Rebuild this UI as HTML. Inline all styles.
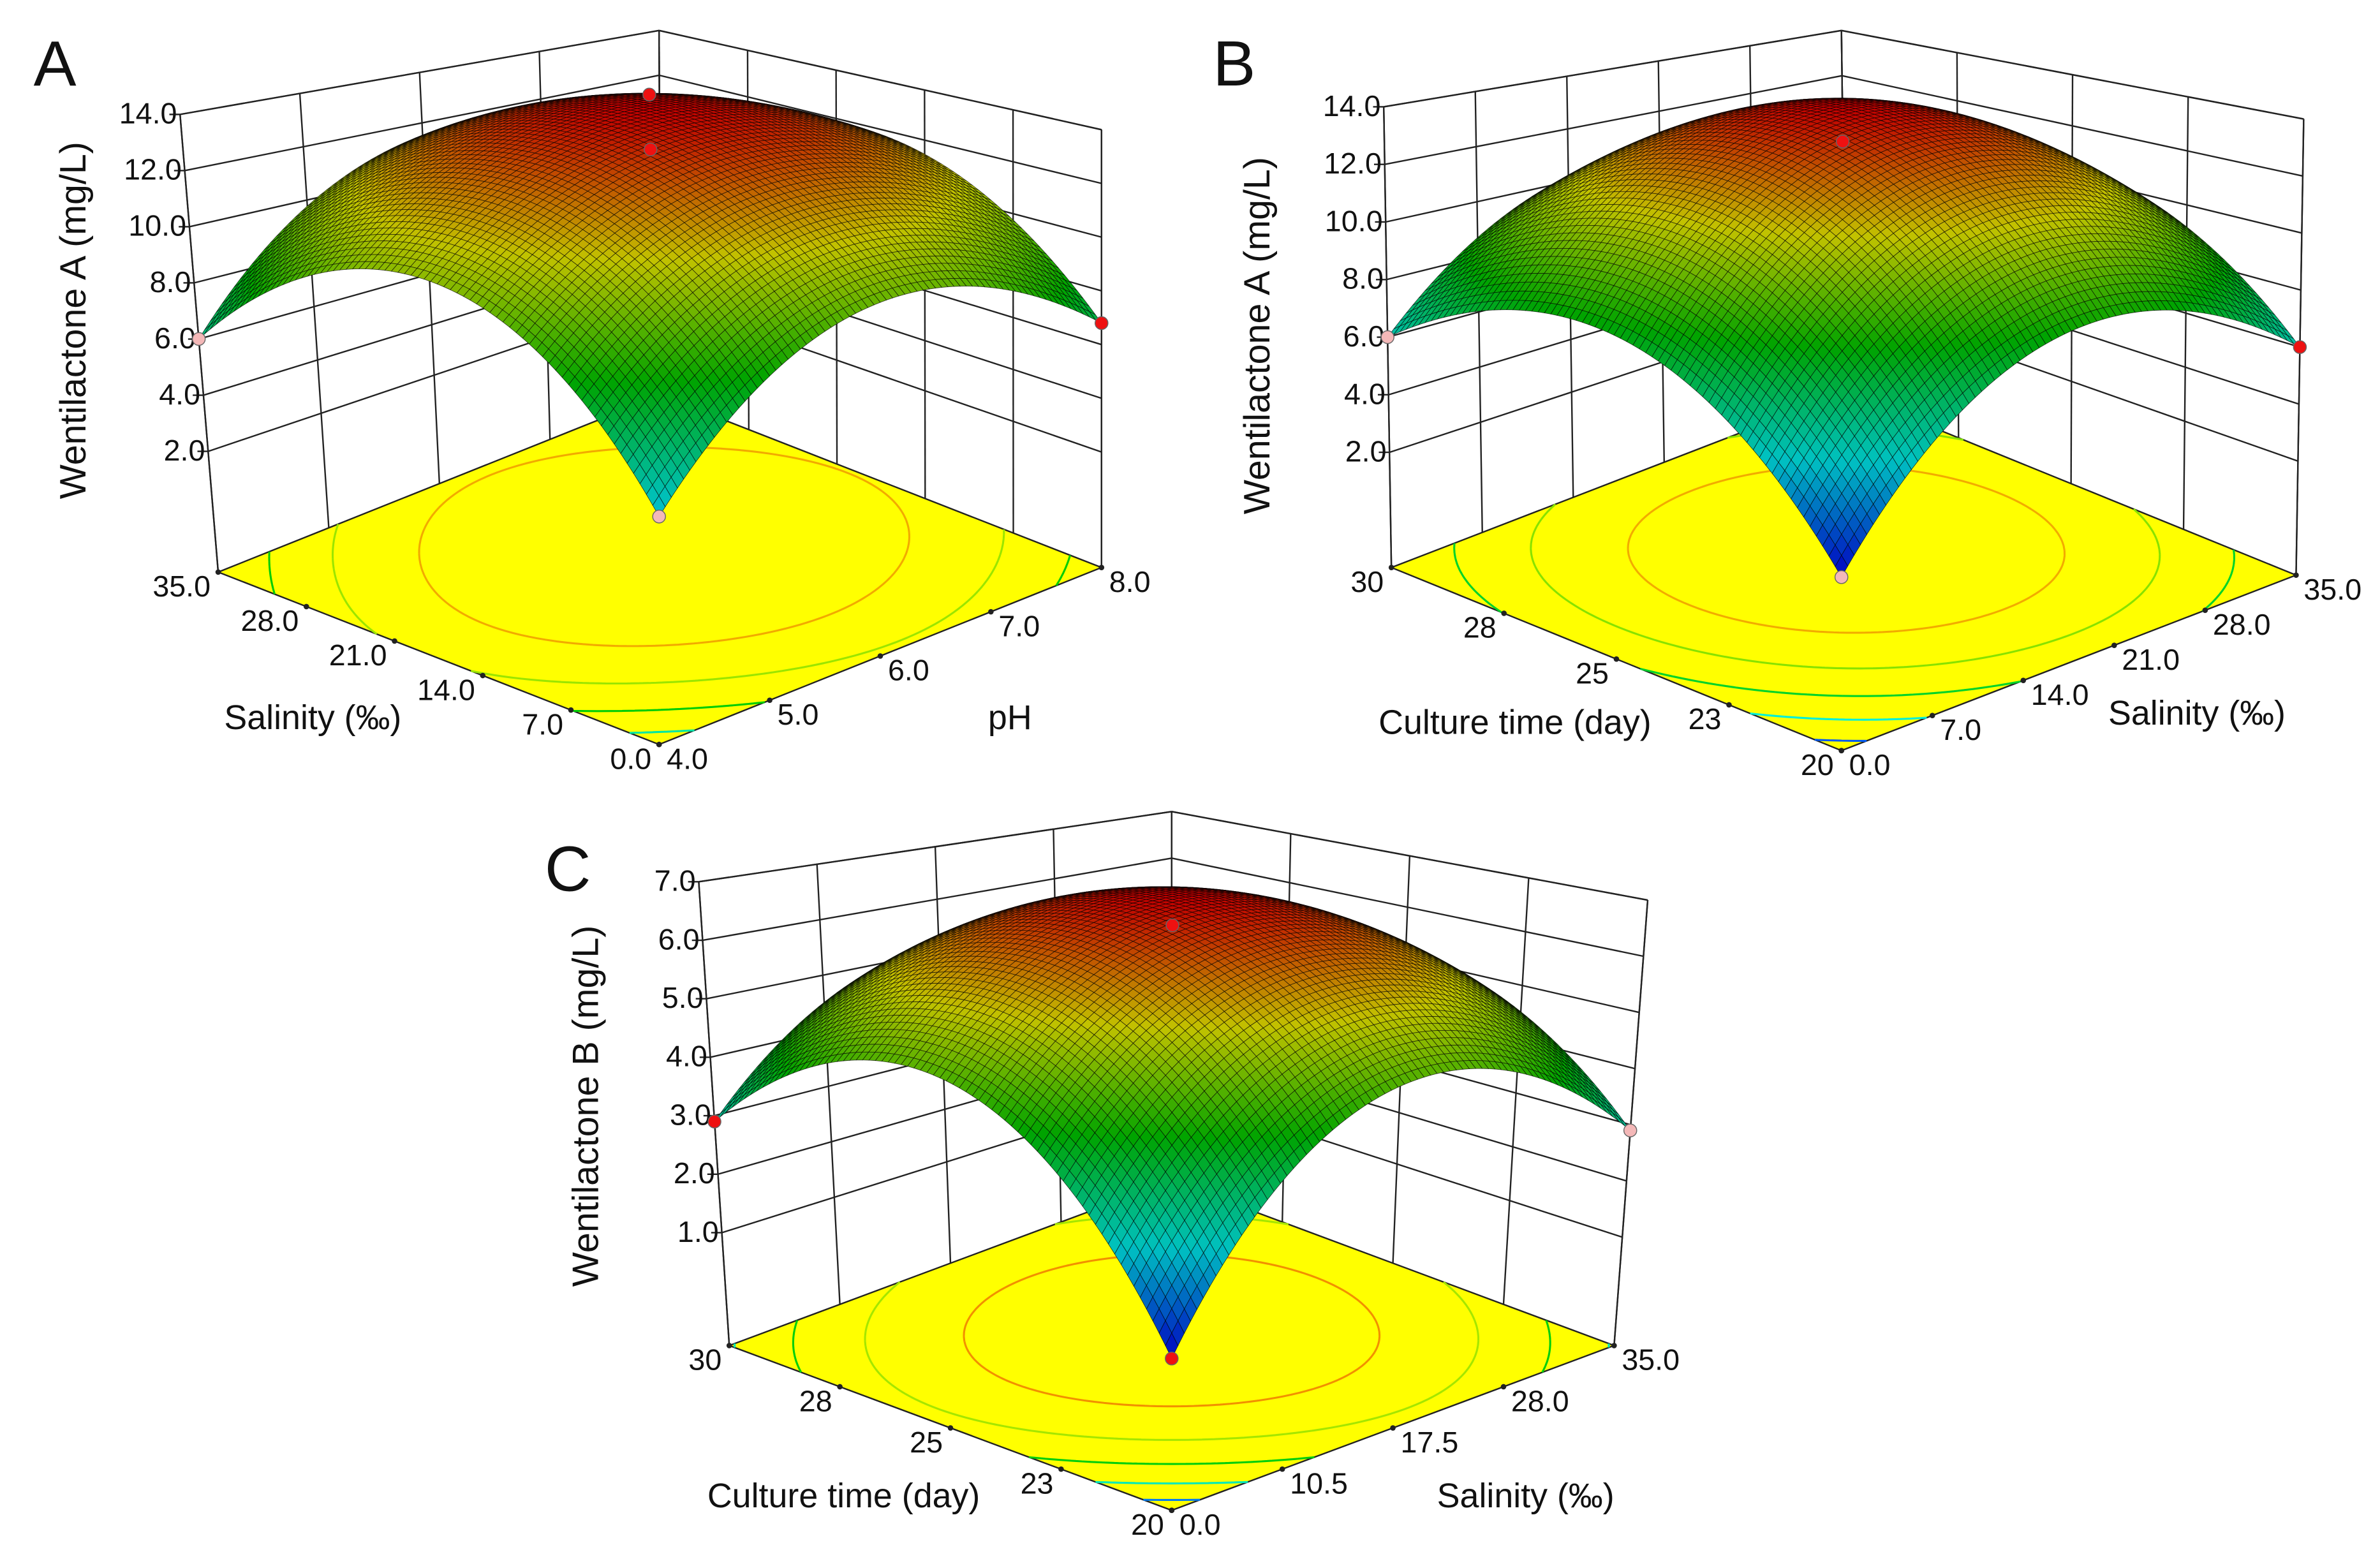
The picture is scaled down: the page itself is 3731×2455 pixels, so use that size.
<!DOCTYPE html>
<html><head><meta charset="utf-8"><title>Response surfaces</title>
<style>html,body{margin:0;padding:0;background:#fff;width:3731px;height:2455px;overflow:hidden}
svg text{font-family:"Liberation Sans",sans-serif;fill:#111}</style></head>
<body>
<svg id="fig" xmlns="http://www.w3.org/2000/svg" width="3731" height="2455" viewBox="0 0 1560 1026.5">
<rect x="0" y="0" width="1560" height="1026.5" fill="#fff"/>
</svg>
<script>
// ---------- DATA ----------
// 3x3 response values at coded levels (rows: u = front->left axis low,mid,high; cols: v = front->right axis low,mid,high)
const gridA = [[4.7, 9.6, 6.8],[10.2, 14.0, 11.8],[6.0, 11.5, 8.8]];
const gridB = [[3.0, 8.5, 6.0],[8.2, 13.8, 10.5],[6.0, 10.5, 7.5]];
const gridC = [[1.3, 4.6, 2.9],[4.6, 6.8, 5.2],[2.9, 5.2, 3.8]];
const zTicksA = [2, 4, 6, 8, 10, 12, 14];
const zTicksB = [2, 4, 6, 8, 10, 12, 14];
const zTicksC = [1, 2, 3, 4, 5, 6, 7];
const uLabelsA = ["0.0","7.0","14.0","21.0","28.0","35.0"];
const vLabelsA = ["4.0","5.0","6.0","7.0","8.0"];
const uLabelsB = ["20","23","25","28","30"];
const vLabelsB = ["0.0","7.0","14.0","21.0","28.0","35.0"];
const uLabelsC = ["20","23","25","28","30"];
const vLabelsC = ["0.0","10.5","17.5","28.0","35.0"];
const contoursA = [6, 8, 10, 12];
const contoursB = [4, 6, 8, 10, 12];
const contoursC = [2, 3, 4, 5, 6];
// design points: [u, v, z, color]
const pointsA = [[1,0,6.0,"pink"],[0,1,6.8,"red"],[0,0,4.7,"pink"],[0.5,0.5,15.0,"red"],[0.5,0.5,13.0,"red"]];
const pointsB = [[1,0,6.0,"pink"],[0,1,6.0,"red"],[0,0,3.0,"pink"],[0.5,0.5,13.0,"red"]];
const pointsC = [[1,0,2.9,"red"],[0,1,2.9,"pink"],[0,0,1.3,"red"],[0.5,0.5,6.4,"red"]];

// ---------- GEOMETRY (layout only) ----------
const geoA = {F:[432,488],L:[143,375],R:[722,372],B:[433,259],Ft:[432,140],Lt:[118,75],Rt:[722,85],Bt:[432,20],zmin:-2.3,zmax:14,cmin:2,
  letter:[22,56],lt:"A",ztitle:"Wentilactone A (mg/L)",zt:[56,210],ut:"Salinity (\u2030)",utp:[205,478],vt:"pH",vtp:[662,478],uWall:5,vWall:4};
const geoB = {F:[1207,492],L:[912,372],R:[1505,377],B:[1210,257],Ft:[1207,128],Lt:[907,70],Rt:[1510,78],Bt:[1207,20],zmin:-2,zmax:14,cmin:3,
  letter:[795,56],lt:"B",ztitle:"Wentilactone A (mg/L)",zt:[832,220],ut:"Culture time (day)",utp:[993,481],vt:"Salinity (\u2030)",vtp:[1440,475],uWall:4,vWall:5};
const geoC = {F:[768,990],L:[478,882],R:[1058,882],B:[768,774],Ft:[768,636],Lt:[458,578],Rt:[1080,590],Bt:[768,532],zmin:-0.93,zmax:7,cmin:1.3,
  letter:[357,584],lt:"C",ztitle:"Wentilactone B (mg/L)",zt:[392,725],ut:"Culture time (day)",utp:[553,988],vt:"Salinity (\u2030)",vtp:[1000,988],uWall:4,vWall:4};

const NS = "http://www.w3.org/2000/svg";
const svg = document.getElementById("fig");
function mk(tag, parent, attrs){const e=document.createElementNS(NS,tag);for(const k in attrs)e.setAttribute(k,attrs[k]);parent.appendChild(e);return e;}
function bil(a,b,c,d,u,v){return [a[0]*(1-u)*(1-v)+b[0]*u*(1-v)+c[0]*(1-u)*v+d[0]*u*v, a[1]*(1-u)*(1-v)+b[1]*u*(1-v)+c[1]*(1-u)*v+d[1]*u*v];}
function lag(t){return [2*(t-0.5)*(t-1), -4*t*(t-1), 2*t*(t-0.5)];}
function surf(g,u,v){const a=lag(u),b=lag(v);let s=0;for(let i=0;i<3;i++)for(let j=0;j<3;j++)s+=g[i][j]*a[i]*b[j];return s;}
const stops=[[0,[0,0,255]],[0.25,[0,255,255]],[0.5,[0,215,0]],[0.75,[255,255,0]],[1,[255,0,0]]];
function pal(t){t=Math.max(0,Math.min(1,t));for(let k=1;k<stops.length;k++){if(t<=stops[k][0]){const a=stops[k-1],b=stops[k];const f=(t-a[0])/(b[0]-a[0]);return [0,1,2].map(i=>a[1][i]+(b[1][i]-a[1][i])*f);}}return stops[4][1];}
function rgb(c,m){return "rgb("+c.map(x=>Math.round(x*m)).join(",")+")";}

function drawPanel(name, geo, grid, zTicks, uLabels, vLabels, contours, points){
  const g = mk("g", svg, {});
  
  
  const P=(u,v,z)=>{const h=(z-geo.zmin)/(geo.zmax-geo.zmin);const b=bil(geo.F,geo.L,geo.R,geo.B,u,v);const t=bil(geo.Ft,geo.Lt,geo.Rt,geo.Bt,u,v);return [b[0]+h*(t[0]-b[0]), b[1]+h*(t[1]-b[1])];};
  const line=(p,q,w,nm)=>{const l=mk("line",g,{x1:p[0].toFixed(2),y1:p[1].toFixed(2),x2:q[0].toFixed(2),y2:q[1].toFixed(2),stroke:"#222","stroke-width":w});
    
    };
  for(const z of zTicks.concat([geo.zmax])){line(P(1,0,z),P(1,1,z),1,"wall-gridline");line(P(1,1,z),P(0,1,z),1,"wall-gridline");}
  for(let k=0;k<=geo.vWall;k++){const v=k/geo.vWall;line(P(1,v,geo.zmin),P(1,v,geo.zmax),1,"wall-gridline");}
  for(let k=0;k<=geo.uWall;k++){const u=k/geo.uWall;line(P(u,1,geo.zmin),P(u,1,geo.zmax),1,"wall-gridline");}
  for(let k=0;k<zTicks.length;k++){const p=P(1,0,zTicks[k]);line([p[0]-7,p[1]],p,1,"z-tick");
    const t=mk("text",g,{x:(p[0]-2).toFixed(1),y:(p[1]+6).toFixed(1),"font-size":"19.5","text-anchor":"end"});t.textContent=zTicks[k].toFixed(1);
    
    }
  const fl=mk("polygon",g,{points:[geo.F,geo.L,geo.B,geo.R].map(p=>p.join(",")).join(" "),fill:"#ffff00",stroke:"#222","stroke-width":1});
  
  
  const cm=geo.cmin;
  let smax=-1e9;const N=72;
  for(let i=0;i<=N;i++)for(let j=0;j<=N;j++)smax=Math.max(smax,surf(grid,i/N,j/N));
  for(const lvl of contours){
    let d="";
    const f=(i,j)=>surf(grid,i/N,j/N)-lvl;
    for(let i=0;i<N;i++)for(let j=0;j<N;j++){
      const c=[[i,j],[i+1,j],[i+1,j+1],[i,j+1]];const val=c.map(q=>f(q[0],q[1]));const pts=[];
      for(let e=0;e<4;e++){const a=val[e],b=val[(e+1)%4];if((a<0)!==(b<0)){const t=a/(a-b);const A=c[e],B=c[(e+1)%4];pts.push(P((A[0]+(B[0]-A[0])*t)/N,(A[1]+(B[1]-A[1])*t)/N,geo.zmin));}}
      for(let k=0;k+1<pts.length;k+=2)d+="M"+pts[k][0].toFixed(2)+" "+pts[k][1].toFixed(2)+"L"+pts[k+1][0].toFixed(2)+" "+pts[k+1][1].toFixed(2);
    }
    const cl=mk("path",g,{d:d,fill:"none",stroke:rgb(pal((lvl-cm)/(smax-cm)),0.95),"stroke-width":1.3});
    
    
  }
  const nu=uLabels.length-1, nv=vLabels.length-1;
  for(let k=0;k<=nu;k++){const p=P(k/nu,0,geo.zmin);
    const tk=mk("circle",g,{cx:p[0].toFixed(1),cy:p[1].toFixed(1),r:1.8,fill:"#222"});
    const t=mk("text",g,{x:(p[0]-5).toFixed(1),y:(p[1]+16).toFixed(1),"font-size":"19.5","text-anchor":"end"});t.textContent=uLabels[k];
    
    }
  for(let k=0;k<=nv;k++){const p=P(0,k/nv,geo.zmin);
    const tk=mk("circle",g,{cx:p[0].toFixed(1),cy:p[1].toFixed(1),r:1.8,fill:"#222"});
    const t=mk("text",g,{x:(p[0]+5).toFixed(1),y:(p[1]+16).toFixed(1),"font-size":"19.5","text-anchor":"start"});t.textContent=vLabels[k];
    
    }
  line(P(1,0,geo.zmin),P(1,0,geo.zmax),1,"z-axis-line");
  line(P(0,1,geo.zmin),P(0,1,geo.zmax),1,"right-edge-line");
  line(P(1,1,geo.zmin),P(1,1,geo.zmax),1,"back-edge-line");
  const sg=mk("g",g,{stroke:"#000","stroke-opacity":0.7,"stroke-width":0.35});
  
  
  const quads=[];
  for(let i=0;i<N;i++)for(let j=0;j<N;j++)quads.push([i,j]);
  quads.sort((a,b)=>(b[0]+b[1])-(a[0]+a[1]));
  for(const q of quads){const i=q[0],j=q[1];
    const cs=[[i,j],[i+1,j],[i+1,j+1],[i,j+1]];
    const zs=cs.map(c=>surf(grid,c[0]/N,c[1]/N));const zc=(zs[0]+zs[1]+zs[2]+zs[3])/4;
    const pts=cs.map((c,k)=>P(c[0]/N,c[1]/N,zs[k]));
    const pg=mk("polygon",sg,{points:pts.map(p=>p[0].toFixed(2)+","+p[1].toFixed(2)).join(" "),fill:rgb(pal((zc-cm)/(smax-cm)),0.76)});
    
    }
  for(const d of points){const p=P(d[0],d[1],d[2]);
    const c=mk("circle",g,{cx:p[0].toFixed(1),cy:p[1].toFixed(1),r:4.2,fill:d[3]==="red"?"#ee1111":"#f4b8b8",stroke:"#666","stroke-width":0.6});
    
    }
  const L=mk("text",g,{x:geo.letter[0],y:geo.letter[1],"font-size":"42"});L.textContent=geo.lt;
  
  
  const zt=mk("text",g,{x:0,y:0,"font-size":"24","text-anchor":"middle",transform:"translate("+geo.zt[0]+","+geo.zt[1]+") rotate(-90)"});zt.textContent=geo.ztitle;
  
  
  const ut=mk("text",g,{x:geo.utp[0],y:geo.utp[1],"font-size":"22.5","text-anchor":"middle"});ut.textContent=geo.ut;
  
  
  const vt=mk("text",g,{x:geo.vtp[0],y:geo.vtp[1],"font-size":"22.5","text-anchor":"middle"});vt.textContent=geo.vt;
  
  
}
drawPanel("panel-a", geoA, gridA, zTicksA, uLabelsA, vLabelsA, contoursA, pointsA);
drawPanel("panel-b", geoB, gridB, zTicksB, uLabelsB, vLabelsB, contoursB, pointsB);
drawPanel("panel-c", geoC, gridC, zTicksC, uLabelsC, vLabelsC, contoursC, pointsC);
</script>
</body></html>
